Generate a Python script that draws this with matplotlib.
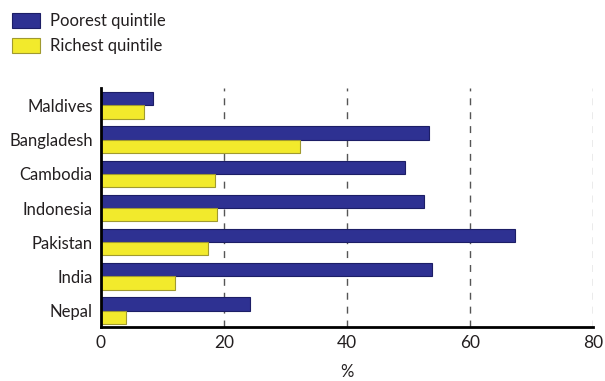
import matplotlib
matplotlib.use("Agg")
import matplotlib.pyplot as plt
from matplotlib.patches import Patch
import numpy as np

# values (%)
countries = ["Maldives", "Bangladesh", "Cambodia", "Indonesia", "Pakistan", "India", "Nepal"]
poorest = [8.5, 53.3, 49.5, 52.6, 67.3, 53.8, 24.3]
richest = [7.0, 32.4, 18.5, 18.8, 17.4, 12.1, 4.1]
xticks = [0, 20, 40, 60, 80]

blue = "#2e3192"
yellow = "#f2ea2c"
txt = "#231f20"

plt.rcParams["font.family"] = ["Lato", "DejaVu Sans"]

fig = plt.figure(figsize=(6.05, 3.81), dpi=100)
ax = fig.add_axes([101 / 605, 1 - 326.7 / 381, 492 / 605, 238.7 / 381])

y = np.arange(len(countries))
h = 0.386
ax.barh(y - h / 2, poorest, height=h, color=blue, edgecolor="#1c1e66", linewidth=0.8, zorder=3)
ax.barh(y + h / 2, richest, height=h, color=yellow, edgecolor="#a09a30", linewidth=0.8, zorder=3)

ax.set_xlim(0, 80)
ax.set_ylim(6.47, -0.51)
ax.set_yticks(y)
ax.set_yticklabels(countries, fontsize=12, color=txt)
ax.set_xticks(xticks)
ax.set_xticklabels([str(v) for v in xticks], fontsize=12.5, color=txt)
ax.tick_params(axis="y", length=0, pad=6)
ax.tick_params(axis="x", length=0, pad=6)

for v in xticks[1:]:
    c = "#9a9a9a" if v == 80 else "#555555"
    ax.axvline(v, color=c, lw=1, ls=(0, (5, 5)), zorder=1)

for s in ["top", "right"]:
    ax.spines[s].set_visible(False)
ax.spines["left"].set_linewidth(2)
ax.spines["bottom"].set_linewidth(2)
ax.spines["left"].set_zorder(4)

ax.set_xlabel("%", fontsize=12, color=txt, labelpad=9)

handles = [Patch(facecolor=blue, edgecolor="#1c1e66", lw=0.8, label="Poorest quintile"),
           Patch(facecolor=yellow, edgecolor="#a09a30", lw=0.8, label="Richest quintile")]
fig.legend(handles=handles, loc="upper left", bbox_to_anchor=(12 / 605, 1 - 13 / 381),
           frameon=False, fontsize=12, handlelength=1.65, handleheight=1.0,
           handletextpad=0.65, labelspacing=0.55, borderpad=0, borderaxespad=0,
           labelcolor=txt)

fig.savefig("out.png", dpi=100)
